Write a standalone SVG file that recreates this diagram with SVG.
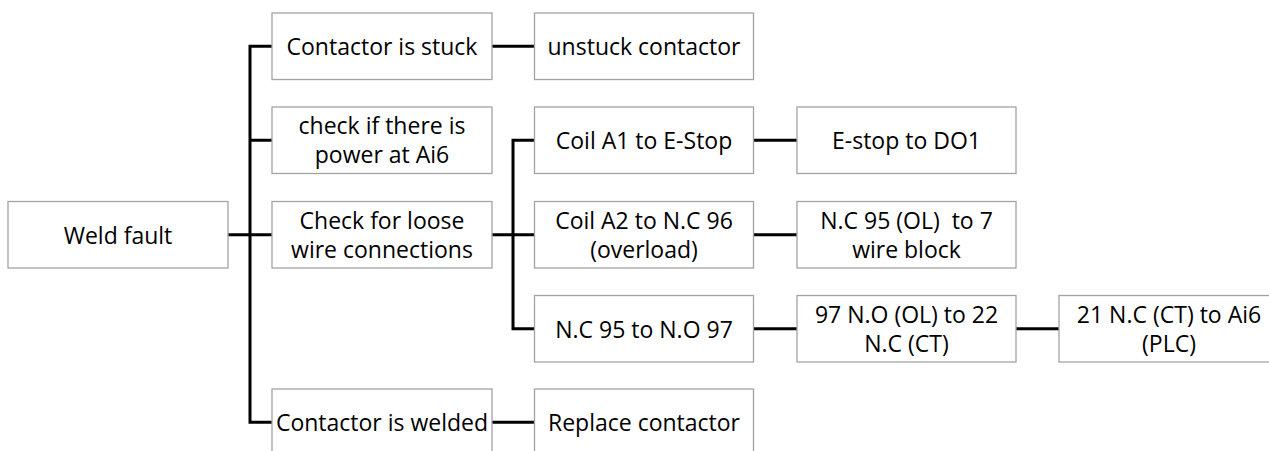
<svg xmlns="http://www.w3.org/2000/svg" width="1269" height="451" viewBox="0 0 1269 451">
<style>
.box{fill:#fff;stroke:#a3a3a3;stroke-width:1.3}
.t{font-family:"Open Sans","Liberation Sans",sans-serif;font-size:23px;fill:#000;text-anchor:middle;white-space:pre}
.c{fill:none;stroke:#000;stroke-width:3;stroke-linejoin:miter}
</style>
<rect width="1269" height="451" fill="#fff"/>
<g id="connectors">
<path class="c" d="M228,234.75 H272"/>
<path class="c" d="M272,46.25 H250 V422.25 H272"/>
<path class="c" d="M250,140.25 H272"/>
<path class="c" d="M492,46.25 H534.5"/>
<path class="c" d="M492,234.75 H534.5"/>
<path class="c" d="M534.5,140.25 H513 V328.75 H534.5"/>
<path class="c" d="M492,422.25 H534.5"/>
<path class="c" d="M753.5,140.25 H797"/>
<path class="c" d="M753.5,234.75 H797"/>
<path class="c" d="M753.5,328.75 H797"/>
<path class="c" d="M1016,328.75 H1059"/>
</g>
<g id="weld-fault"><rect class="box" x="8" y="201.5" width="220" height="66.5"/><text class="t" x="118" y="243.5">Weld fault</text></g>
<g id="contactor-stuck"><rect class="box" x="272" y="13" width="220" height="66.5"/><text class="t" x="382" y="55">Contactor is stuck</text></g>
<g id="check-power"><rect class="box" x="272" y="107" width="220" height="66.5"/><text class="t" x="382" y="134">check if there is</text><text class="t" x="382" y="163">power at Ai6</text></g>
<g id="check-loose"><rect class="box" x="272" y="201.5" width="220" height="66.5"/><text class="t" x="382" y="228.5">Check for loose</text><text class="t" x="382" y="257.5">wire connections</text></g>
<g id="contactor-welded"><rect class="box" x="272" y="389" width="220" height="66.5"/><text class="t" x="382" y="431">Contactor is welded</text></g>
<g id="unstuck"><rect class="box" x="534.5" y="13" width="219" height="66.5"/><text class="t" x="644" y="55">unstuck contactor</text></g>
<g id="coil-a1"><rect class="box" x="534.5" y="107" width="219" height="66.5"/><text class="t" x="644" y="149">Coil A1 to E-Stop</text></g>
<g id="coil-a2"><rect class="box" x="534.5" y="201.5" width="219" height="66.5"/><text class="t" x="644" y="228.5">Coil A2 to N.C 96</text><text class="t" x="644" y="257.5">(overload)</text></g>
<g id="nc95-no97"><rect class="box" x="534.5" y="295.5" width="219" height="66.5"/><text class="t" x="644" y="337.5">N.C 95 to N.O 97</text></g>
<g id="replace"><rect class="box" x="534.5" y="389" width="219" height="66.5"/><text class="t" x="644" y="431">Replace contactor</text></g>
<g id="estop-do1"><rect class="box" x="797" y="107" width="219" height="66.5"/><text class="t" x="906.5" y="149">E-stop to DO1</text></g>
<g id="nc95-7wire"><rect class="box" x="797" y="201.5" width="219" height="66.5"/><text class="t" x="906.5" y="228.5">N.C 95 (OL)  to 7</text><text class="t" x="906.5" y="257.5">wire block</text></g>
<g id="no97-nc22"><rect class="box" x="797" y="295.5" width="219" height="66.5"/><text class="t" x="906.5" y="322.5">97 N.O (OL) to 22</text><text class="t" x="906.5" y="351.5">N.C (CT)</text></g>
<g id="nc21-ai6"><rect class="box" x="1059" y="295.5" width="220" height="66.5"/><text class="t" x="1169" y="322.5">21 N.C (CT) to Ai6</text><text class="t" x="1169" y="351.5">(PLC)</text></g>
</svg>
